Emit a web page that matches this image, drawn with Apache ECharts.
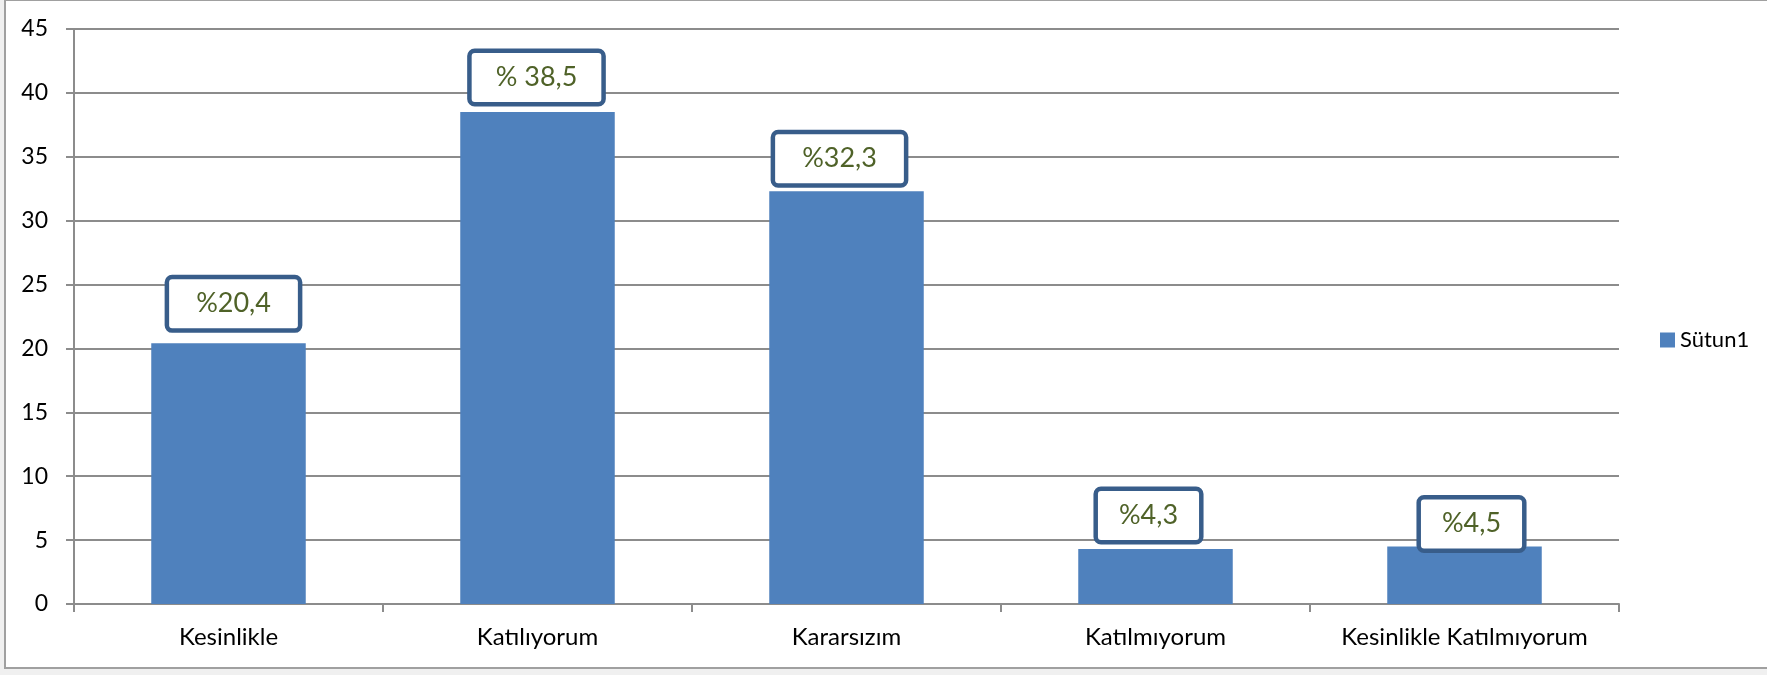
<!DOCTYPE html>
<html>
<head>
<meta charset="utf-8">
<script src="https://cdn.jsdelivr.net/npm/echarts@6/dist/echarts.min.js"></script>
<style>
  html, body { margin: 0; padding: 0; background: #f0f0f0; overflow: hidden; }
  #frame {
    position: absolute; left: 4px; top: -1px; width: 1800px; height: 670px;
    background: #ffffff; border: 2px solid #a0a0a0; box-sizing: border-box;
  }
  #chart { position: absolute; left: 0; top: 0; width: 1767px; height: 675px; }
</style>
</head>
<body>
<div id="frame"></div>
<div id="chart"></div>
<script>
// categories and values
const categories = ['Kesinlikle', 'Katılıyorum', 'Kararsızım', 'Katılmıyorum', 'Kesinlikle Katılmıyorum']
const values = [20.4, 38.5, 32.3, 4.3, 4.5]
const labelTexts = ['%20,4', '% 38,5', '%32,3', '%4,3', '%4,5']
const seriesName = 'Sütun1'

// label box nudges, [dx, dy] in px, and side padding
const labelOffsets = [[5, -15], [-1, -10], [-7, -8], [-7, -9], [7, 2]]
const labelSidePad = [27, 24, 27, 21, 21]

const chart = echarts.init(document.getElementById('chart'), null, { renderer: 'canvas' })

const font = 'Lato'

const option = {
  backgroundColor: 'transparent',
  animation: false,
  grid: { left: 74, right: 148, top: 29, bottom: 71 },
  legend: {
    data: [seriesName],
    left: 1655,
    top: 324,
    icon: 'rect',
    itemWidth: 15,
    itemHeight: 15,
    textStyle: { fontFamily: font, fontSize: 22, color: '#000' }
  },
  xAxis: {
    type: 'category',
    data: categories,
    axisLine: { lineStyle: { color: '#8c8c8c', width: 2 } },
    axisTick: { show: true, interval: 0, length: 8, lineStyle: { color: '#8c8c8c', width: 2 } },
    axisLabel: { interval: 0, margin: 21, fontFamily: font, fontSize: 24, color: '#000' }
  },
  yAxis: {
    type: 'value',
    min: 0,
    max: 45,
    interval: 5,
    axisLine: { show: true, lineStyle: { color: '#8c8c8c', width: 2 } },
    axisTick: { show: true, length: 8, lineStyle: { color: '#8c8c8c', width: 2 } },
    axisLabel: { margin: 26, fontFamily: font, fontSize: 23, color: '#000' },
    splitLine: { lineStyle: { color: '#8c8c8c', width: 2 } }
  },
  series: [
    {
      name: seriesName,
      type: 'bar',
      barWidth: '50%',
      itemStyle: { color: '#4f81bd' },
      data: values.map((v, i) => ({
        value: v,
        label: {
          show: true,
          position: 'top',
          distance: 0,
          offset: labelOffsets[i],
          formatter: labelTexts[i],
          fontFamily: font,
          fontSize: 27,
          lineHeight: 28,
          color: '#4f6228',
          backgroundColor: '#ffffff',
          borderColor: '#385d8a',
          borderWidth: 4.5,
          borderRadius: 3,
          padding: [10, labelSidePad[i], 11, labelSidePad[i]]
        }
      }))
    }
  ]
}

chart.setOption(option)
</script>
</body>
</html>
